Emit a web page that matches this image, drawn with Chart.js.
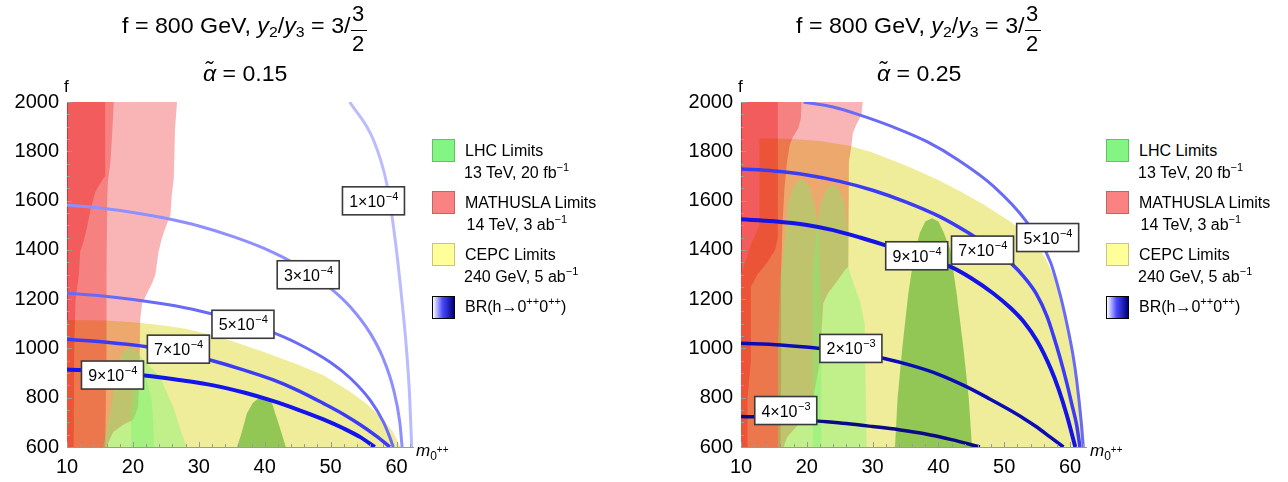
<!DOCTYPE html>
<html>
<head>
<meta charset="utf-8">
<script src="https://cdn.jsdelivr.net/npm/chart.js@4.4.1/dist/chart.umd.min.js"></script>
<style>
  html, body { margin: 0; padding: 0; background: #fff; }
  #stage { position: relative; width: 1288px; height: 482px; overflow: hidden;
           font-family: "Liberation Sans", Arial, sans-serif; color: #000; }
  #stage canvas { position: absolute; top: 0; }
  .t { position: absolute; white-space: nowrap; line-height: 1; transform-origin: 0 0; }
  .sb { position: relative; font-size: 15px; top: 4px; }
  .sp { position: relative; font-size: 11px; top: -7px; }
  .sw { position: absolute; width: 22px; height: 22px; box-sizing: border-box;
        border: 1px solid rgba(0,0,0,0.22); }
  .bar { position: absolute; height: 1.4px; background: #000; }
</style>
</head>
<body>
<div id="stage">
  <canvas id="leftChart" width="470" height="482" style="left:0"></canvas>
  <canvas id="rightChart" width="440" height="482" style="left:674px"></canvas>
</div>
<script>
// axis ticks
const mTicks = [10, 20, 30, 40, 50, 60];
const fTicks = [600, 800, 1000, 1200, 1400, 1600, 1800, 2000];

// ---- left panel, alpha = 0.15 ----
const cepcLeft = [[10,600],[10,1115],[16,1113],[21,1104],[25,1092],[28,1080],[31.5,1058],[35,1030],[40,985],[45,935],[49,890],[52.9,825],[55.5,775],[58,712],[59.5,660],[60.6,600]];
const mathuslaLeftA = [[26.7,2000],[26.4,1893],[26.2,1690],[25.9,1623],[25.7,1541],[24.9,1487],[24.4,1447],[23.9,1393],[23.4,1298],[22.9,1264],[21.9,1210],[21.4,1183],[21.1,1115],[21,900],[20.8,760],[20,710],[18.5,690],[17,660],[16.3,620],[16,600],[10,600],[10,2000]];
const mathuslaLeftB = [[17.1,2000],[16.9,1893],[16.6,1758],[16.2,1677],[16.1,1600],[16,1300],[16,1000],[15.8,600],[10,600],[10,2000]];
const mathuslaLeftC = [[15.8,2000],[15.8,1700],[15.3,1680],[14.3,1636],[13.5,1555],[13,1487],[12.5,1433],[12,1393],[11.8,1298],[11.3,1200],[11.1,1000],[11,600],[10,600],[10,2000]];
const lhcLeftA = [[15.5,600],[15.8,642],[16.8,777],[17.6,912],[18.3,980],[19.4,1007],[20.5,995],[21.6,953],[24.1,885],[26.1,763],[27.4,656],[28.2,600]];
const lhcLeftB = [[19.6,600],[19.7,750],[20.2,850],[21,900],[22,880],[22.8,800],[23.1,700],[23.2,600]];
const lhcLeftC = [[35.8,600],[36.4,650],[37.3,736],[38.2,780],[39.2,800],[39.9,804],[40.6,800],[41.2,770],[41.6,736],[42.4,670],[43.2,600]];

const brLeft1e4 = [[52.9,2000],[56.5,1846],[58.5,1670],[59.8,1440],[60.8,1200],[61.5,1000],[62,800],[62.3,600]];
const brLeft3e4 = [[10,1582],[15,1570],[20,1552],[25,1528],[30,1497],[35,1456],[40,1405],[45,1337],[50,1244],[53,1168],[56,1062],[58,958],[59.5,838],[60.5,700],[60.85,600]];
const brLeft5e4 = [[10,1224],[15,1214],[20,1199],[25,1179],[30,1153],[35,1119],[40,1077],[45,1020],[50,943],[53,879],[56,790],[58,702],[59,638],[59.5,600]];
const brLeft7e4 = [[10,1037],[16,1025],[22.1,1007],[26.9,985],[31.7,953],[36.5,915],[41.3,872],[45,830],[48.9,777],[52,732],[54.5,690],[57,643],[59,600]];
const brLeft9e4 = [[10,915],[16.9,905],[22.5,888],[27,872],[32.2,850],[37,820],[41.2,787],[45,752],[48.9,712],[52,675],[54.5,640],[56.7,600]];

const labelPosLeft = [[56.5,1599],[46.6,1299],[36.7,1098],[26.9,997],[16.9,892]];
const labelMantLeft = ["1", "3", "5", "7", "9"];
const labelExpLeft = ["−4", "−4", "−4", "−4", "−4"];

// ---- right panel, alpha = 0.25 ----
const cepcRight = [[10,600],[10,1300],[11.5,1420],[12.8,1500],[12.8,1853],[18,1850],[22,1842],[26.5,1822],[30,1795],[35.7,1735],[39.9,1685],[43.3,1638],[47,1582],[50.9,1515],[53,1470],[54.9,1420],[56.3,1365],[57.4,1300],[58.3,1238],[59,1170],[59.8,1080],[60.5,990],[61.2,870],[61.7,760],[62.1,670],[62.3,600]];
const mathuslaRightA = [[28.5,2000],[28.3,1947],[27.5,1907],[27,1873],[26.8,1826],[26.4,1758],[26.3,1582],[26.3,1330],[25.8,1318],[24.7,1277],[23.2,1223],[22.5,1183],[22.3,1100],[22,950],[21,800],[19,700],[17,640],[16.5,600],[10,600],[10,2000]];
const mathuslaRightB = [[19.2,2000],[19.1,1934],[18.7,1893],[17.9,1859],[17.4,1826],[17,1758],[16.6,1650],[16.3,1500],[16.1,1300],[16.1,900],[16,600],[10,600],[10,2000]];
const mathuslaRightC = [[15.6,2000],[15.6,1450],[15.2,1400],[14,1350],[12.5,1300],[11.5,1250],[11.5,950],[11,800],[11,600],[10,600],[10,2000]];
const lhcRightA = [[15.6,600],[15.6,1000],[16,1300],[16.6,1420],[17.1,1582],[18,1660],[19.2,1690],[20.3,1660],[21.2,1580],[21.7,1487],[22,1300],[22.2,1000],[22.2,600]];
const lhcRightB = [[20.9,600],[20.9,1298],[21.2,1420],[22,1582],[23,1650],[24,1663],[25,1640],[25.8,1582],[26.3,1460],[26.3,1330],[27,1270],[28,1200],[28.8,1100],[28.9,900],[29.1,600]];
const lhcRightC = [[33.4,600],[33.8,800],[34.5,1000],[35.4,1217],[36.3,1380],[37.2,1470],[38,1515],[39,1528],[40,1515],[40.8,1470],[41.8,1400],[42.8,1217],[43.8,1000],[44.6,800],[45.1,600]];

const brRight5e4 = [[19.5,2000],[24,1980],[28.1,1947],[33,1900],[38.2,1840],[43,1765],[48.3,1660],[53.4,1514],[57,1352],[58.5,1217],[59.5,1102],[60.4,980],[61,872],[61.7,700],[62,600]];
const brRight7e4 = [[10,1728],[15,1720],[20,1704],[25,1678],[30,1642],[35,1595],[40.2,1535],[44.8,1465],[48,1408],[51.3,1339],[53,1290],[54.9,1220],[56.5,1130],[57.5,1050],[58.5,960],[59.5,860],[60.3,770],[61,690],[61.5,600]];
const brRight9e4 = [[10,1524],[15,1516],[20,1501],[24,1480],[28.1,1450],[32,1418],[36.7,1378],[41.8,1332],[45,1285],[48.3,1224],[50.8,1168],[52.9,1110],[55,1030],[57,922],[58.3,832],[59.5,730],[60.8,600]];
const brRight2e3 = [[10,1021],[16,1014],[22,1000],[26.7,985],[31.6,960],[36,930],[40,895],[44,848],[47.8,795],[50.5,755],[52.9,717],[55,680],[57,640],[59,600]];
const brRight4e3 = [[10,724],[16,718],[21.7,705],[26,695],[30,683],[34,670],[37.7,655],[42,630],[46.3,600]];

const labelPosRight = [[56.6,1450],[46.7,1399],[36.7,1376],[26.7,1000],[16.8,748]];
const labelMantRight = ["5", "7", "9", "2", "4"];
const labelExpRight = ["−4", "−4", "−4", "−3", "−3"];

const FONT = '"Liberation Sans", Arial, sans-serif';
const CEPC_FILL = "#efed9a";
const MATHUSLA_FILL = "rgba(235,0,0,0.29)";
const LHC_FILL = "rgba(110,245,110,0.35)";
const LHC_DARK_FILL = "rgba(110,185,60,0.72)";

const toXY = pts => pts.map(([x, y]) => ({ x, y }));

function region(pts, color, order) {
  return { data: toXY(pts), fill: "shape", backgroundColor: color, borderWidth: 0,
           pointRadius: 0, tension: 0, order };
}

function contour(pts, color, width) {
  return { data: toXY(pts), fill: false, borderColor: color, borderWidth: width,
           pointRadius: 0, cubicInterpolationMode: "monotone", order: 1 };
}

function boxLabels(pos, mant, exp) {
  return pos.map(([m, f], i) => ({ m, f, text: mant[i] + "×10", exp: exp[i] }));
}

// inward tick marks plus the white value boxes sitting on the contours
const panelDecor = {
  id: "panelDecor",
  afterDatasetsDraw(chart, args, opts) {
    const { ctx, chartArea: a, scales: { x, y } } = chart;
    ctx.save();
    ctx.strokeStyle = "#9a9a9a";
    ctx.lineWidth = 1;
    ctx.beginPath();
    for (let v = 10; v <= 62; v += 2) {
      const px = Math.round(x.getPixelForValue(v)) + 0.5;
      ctx.moveTo(px, a.bottom);
      ctx.lineTo(px, a.bottom - (v % 10 === 0 ? 5 : 3));
    }
    for (let v = 600; v <= 2000; v += 50) {
      const py = Math.round(y.getPixelForValue(v)) + 0.5;
      ctx.moveTo(a.left, py);
      ctx.lineTo(a.left + (v % 200 === 0 ? 5 : 3), py);
    }
    ctx.stroke();

    for (const lb of opts.labels || []) {
      const cx = x.getPixelForValue(lb.m), cy = y.getPixelForValue(lb.f);
      const w = 62, h = 28;
      ctx.fillStyle = "#fff";
      ctx.fillRect(cx - w / 2, cy - h / 2, w, h);
      ctx.strokeStyle = "#3a3a3a";
      ctx.lineWidth = 1.6;
      ctx.strokeRect(cx - w / 2, cy - h / 2, w, h);
      ctx.font = "16px " + FONT;
      const w1 = ctx.measureText(lb.text).width;
      ctx.font = "11px " + FONT;
      const w2 = ctx.measureText(lb.exp).width;
      const x0 = cx - (w1 + w2) / 2;
      ctx.fillStyle = "#000";
      ctx.textBaseline = "alphabetic";
      ctx.font = "16px " + FONT;
      ctx.fillText(lb.text, x0, cy + 6);
      ctx.font = "11px " + FONT;
      ctx.fillText(lb.exp, x0 + w1 + 0.5, cy - 1);
    }
    ctx.restore();
  },
};

function makePanel(canvasId, rightPad, datasets, labels) {
  return new Chart(document.getElementById(canvasId), {
    type: "line",
    data: { datasets },
    plugins: [panelDecor],
    options: {
      responsive: false,
      animation: false,
      events: [],
      layout: { padding: { top: 102, right: rightPad, left: 0, bottom: 0 } },
      plugins: { legend: { display: false }, tooltip: { enabled: false }, panelDecor: { labels } },
      scales: {
        x: {
          type: "linear", min: 10, max: 62.5,
          grid: { display: false, drawTicks: false },
          border: { display: true, color: "#9a9a9a", width: 1 },
          ticks: { color: "#000", padding: 8, maxRotation: 0, autoSkip: false,
                   font: { size: 20, family: FONT }, callback: v => String(v) },
          afterBuildTicks: s => { s.ticks = mTicks.map(v => ({ value: v })); },
          afterFit: s => { s.height = 35; },
        },
        y: {
          type: "linear", min: 600, max: 2000,
          grid: { display: false, drawTicks: false },
          border: { display: true, color: "#9a9a9a", width: 1 },
          ticks: { color: "#000", padding: 8, font: { size: 20, family: FONT }, callback: v => String(v) },
          afterBuildTicks: s => { s.ticks = fTicks.map(v => ({ value: v })); },
          afterFit: s => { s.width = 67; },
        },
      },
    },
  });
}

makePanel("leftChart", 57, [
  region(cepcLeft, CEPC_FILL, 50),
  region(mathuslaLeftA, MATHUSLA_FILL, 40),
  region(mathuslaLeftB, MATHUSLA_FILL, 39),
  region(mathuslaLeftC, MATHUSLA_FILL, 38),
  region(lhcLeftA, LHC_FILL, 30),
  region(lhcLeftB, LHC_FILL, 29),
  region(lhcLeftC, LHC_DARK_FILL, 28),
  contour(brLeft1e4, "rgba(170,170,255,0.8)", 3),
  contour(brLeft3e4, "#8f8fff", 3),
  contour(brLeft5e4, "#6a6af8", 3),
  contour(brLeft7e4, "#3c3cf4", 3.5),
  contour(brLeft9e4, "#1414ee", 4),
], boxLabels(labelPosLeft, labelMantLeft, labelExpLeft));

makePanel("rightChart", 27.5, [
  region(cepcRight, CEPC_FILL, 50),
  region(mathuslaRightA, MATHUSLA_FILL, 40),
  region(mathuslaRightB, MATHUSLA_FILL, 39),
  region(mathuslaRightC, MATHUSLA_FILL, 38),
  region(lhcRightA, LHC_FILL, 30),
  region(lhcRightB, LHC_FILL, 29),
  region(lhcRightC, LHC_DARK_FILL, 28),
  contour(brRight5e4, "#6a6af8", 3),
  contour(brRight7e4, "#3c3cf4", 3.5),
  contour(brRight9e4, "#1414e6", 4),
  contour(brRight2e3, "#0c0cb4", 3.5),
  contour(brRight4e3, "#0a0a88", 3.5),
], boxLabels(labelPosRight, labelMantRight, labelExpRight));

// ---- titles, axis names and legends as html text ----
const stage = document.getElementById("stage");

function place(html, x, baseline, size, width) {
  const el = document.createElement("div");
  el.className = "t";
  el.style.left = x + "px";
  el.style.top = (baseline - 0.8465 * size) + "px";
  el.style.fontSize = size + "px";
  el.innerHTML = html;
  stage.appendChild(el);
  // stretch a line to the span it takes in the figure
  if (width) el.style.transform = "scaleX(" + (width / el.offsetWidth) + ")";
  return el;
}

function box(x, y, w, h, cls, bg) {
  const el = document.createElement("div");
  el.className = cls;
  Object.assign(el.style, { left: x + "px", top: y + "px", width: w + "px", height: h + "px" });
  if (bg) el.style.background = bg;
  stage.appendChild(el);
}

const panelAlpha = ["0.15", "0.25"];
const panelShift = [0, 674];

const legendColors = ["#82f582", "#fa8282", "#ffff99"];
const legendNames = ["LHC Limits", "MATHUSLA Limits", "CEPC Limits"];
const legendRuns = ["13 TeV, 20 fb<span class='sp'>−1</span>",
                    "14 TeV, 3 ab<span class='sp'>−1</span>",
                    "240 GeV, 5 ab<span class='sp'>−1</span>"];
const legendTop = [138.5, 190.5, 243];

panelShift.forEach((dx, p) => {
  place("f = 800 GeV, <i>y</i><span class='sb'>2</span>/<i>y</i><span class='sb'>3</span> = 3/", 122 + dx, 33.5, 22, 228);
  place("3", 352 + dx, 21.7, 22);
  box(350.5 + dx, 29.8, 16, 1.4, "bar");
  place("2", 352 + dx, 51.7, 22);
  place("<i>α̃</i> = " + panelAlpha[p], 203 + dx, 81.7, 22, 84);

  place("f", 64 + dx, 92, 17);
  place("<i>m</i><span style='position:relative;top:4px;font-size:12px'>0<span style='position:relative;top:-7px;font-size:10px'>++</span></span>", 416 + dx, 456, 17);

  legendColors.forEach((c, i) => {
    box(432 + dx, legendTop[i], 23, 23, "sw", c);
    place(legendNames[i], 465 + dx, legendTop[i] + 18, 16);
    place(legendRuns[i], 464 + dx + (i === 1 ? 2.5 : 0), legendTop[i] + 40, 16);
  });
  const br = document.createElement("div");
  br.className = "sw";
  Object.assign(br.style, { left: (432 + dx) + "px", top: "295.5px", width: "23px", height: "23px",
    border: "1.5px solid #000", background: "linear-gradient(to right, #ffffff, #4a4aff 45%, #00007a)" });
  stage.appendChild(br);
  place("BR(h→0<span class='sp'>++</span>0<span class='sp'>++</span>)", 465 + dx, 313, 16);
});
</script>
</body>
</html>
